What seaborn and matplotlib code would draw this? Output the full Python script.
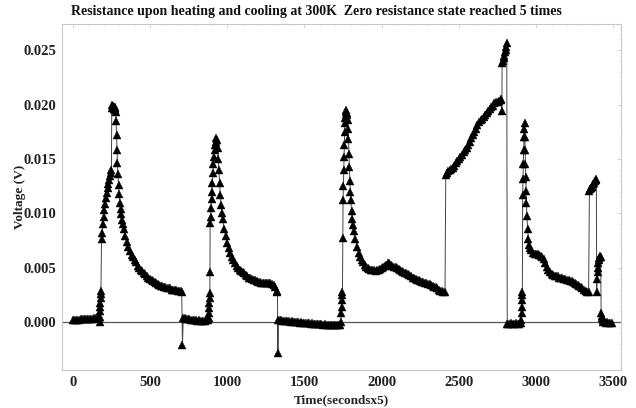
import numpy as np
import pandas as pd
import matplotlib
matplotlib.use("Agg")
import matplotlib.pyplot as plt
import seaborn as sns

# ---- data (time in seconds x5, voltage in V) ----
t_a = [0, 10, 20, 30, 40, 50, 60, 70, 80, 90, 100, 110, 120, 130, 140, 150, 160, 170,
       174, 176, 177, 178, 179, 180, 181, 182, 186, 190, 195, 200, 205, 210, 215, 220,
       225, 230, 235, 240, 245, 250, 252, 255, 258, 261, 264, 267, 270, 273, 276, 278,
       280, 283, 286, 289, 292, 296, 300, 305, 310, 315, 320, 325, 330, 340, 350, 360,
       370, 380, 390, 400, 410, 420, 430, 440, 450, 460, 470, 480, 490, 500, 510, 520,
       530, 540, 550, 560, 570, 580, 590, 600, 610, 620, 630, 640, 650, 660, 670, 680,
       690, 700, 705]
v_a = [0.00020, 0.00022, 0.00022, 0.00024, 0.00023, 0.00025, 0.00026, 0.00026, 0.00028,
       0.00028, 0.00030, 0.00031, 0.00031, 0.00033, 0.00034, 0.00035, 0.00036, 0.00038,
       0.0000, 0.0005, 0.0010, 0.0014, 0.0018, 0.0022, 0.0026, 0.0029, 0.0076, 0.0082,
       0.0090, 0.0097, 0.0103, 0.0109, 0.0114, 0.0119, 0.0123, 0.0127, 0.0131, 0.0134,
       0.0137, 0.0140, 0.0197, 0.0200, 0.0198, 0.0199, 0.0196, 0.0198, 0.0197, 0.0195,
       0.0198, 0.0193, 0.0185, 0.0172, 0.0158, 0.0146, 0.0136, 0.0126, 0.0118, 0.0110,
       0.0104, 0.0099, 0.0094, 0.0090, 0.0086, 0.0079, 0.0074, 0.0069, 0.0065, 0.0062,
       0.0060, 0.0057, 0.0055, 0.0052, 0.0050, 0.0048, 0.0047, 0.0045, 0.0044, 0.0042,
       0.0041, 0.0040, 0.0039, 0.0038, 0.0037, 0.0036, 0.0035, 0.0034, 0.0033, 0.0033,
       0.0032, 0.0032, 0.0031, 0.0031, 0.0031, 0.0030, 0.0030, 0.0030, 0.0030, 0.0029,
       0.0029, 0.0029, 0.0028]

t_b = [710, 715, 725, 735, 745, 755, 765, 775, 785, 795, 805, 815, 825, 835, 845, 855, 865,
       875, 880, 882, 884, 885, 886, 887, 888, 889, 892, 895, 898, 901, 904, 907, 910, 914,
       918, 922, 926, 930, 934, 938, 942, 946, 950, 955, 960, 965, 970, 980, 990, 1000, 1010,
       1020, 1030, 1040, 1050, 1060, 1070, 1080, 1090, 1100, 1110, 1120, 1130, 1140, 1150,
       1160, 1170, 1180, 1190, 1200, 1210, 1220, 1230, 1240, 1250, 1260, 1270, 1280, 1290,
       1300, 1310, 1320, 1325]
v_b = [-0.0021, 0.0004, 0.0004, 0.0003, 0.0003, 0.0003, 0.0002, 0.0002, 0.0002, 0.0002,
       0.0001, 0.0002, 0.0001, 0.0001, 0.0001, 0.0001, 0.0002, 0.0002, 0.0004, 0.0008,
       0.0013, 0.0018, 0.0022, 0.0027, 0.0046, 0.0091, 0.0097, 0.0105, 0.0113, 0.0120,
       0.0128, 0.0137, 0.0145, 0.0152, 0.0158, 0.0163, 0.0166, 0.0169, 0.0167, 0.0160,
       0.0150, 0.0140, 0.0128, 0.0117, 0.0108, 0.0100, 0.0095, 0.0086, 0.0079, 0.0073,
       0.0068, 0.0064, 0.0060, 0.0057, 0.0054, 0.0052, 0.0050, 0.0048, 0.0047, 0.0046,
       0.0045, 0.0043, 0.0042, 0.0041, 0.0041, 0.0040, 0.0039, 0.0039, 0.0038, 0.0037,
       0.0037, 0.0036, 0.0036, 0.0036, 0.0036, 0.0036, 0.0036, 0.0036, 0.0035, 0.0034,
       0.0032, 0.0029, 0.0028]

t_c = [1328, 1331, 1340, 1350, 1360, 1370, 1380, 1390, 1400, 1410, 1420, 1430, 1440, 1450,
       1460, 1470, 1480, 1490, 1500, 1510, 1520, 1530, 1540, 1550, 1560, 1570, 1580, 1590,
       1600, 1610, 1620, 1630, 1640, 1650, 1660, 1670, 1680, 1690, 1700, 1710, 1720, 1730,
       1735, 1738, 1740, 1742, 1744, 1746, 1748, 1750, 1752, 1754, 1756, 1758, 1760, 1762,
       1764, 1766, 1768, 1770, 1773, 1776, 1779, 1782, 1785, 1788, 1791, 1794, 1797, 1800,
       1805, 1810, 1815, 1820, 1830, 1840, 1850, 1860, 1870, 1880, 1890, 1900, 1910, 1920,
       1930, 1940, 1950, 1960, 1970, 1980, 1990, 2000, 2010, 2020, 2030, 2040, 2050, 2060,
       2070, 2080, 2090, 2100, 2110, 2120, 2130, 2140, 2150, 2160, 2170, 2180, 2190, 2200,
       2210, 2220, 2230, 2240, 2250, 2260, 2270, 2280, 2290, 2300, 2310, 2320, 2330, 2340,
       2350, 2360, 2370, 2380, 2390, 2400, 2410]
v_c = [-0.0028, 0.0002, 0.0002, 0.0002, 0.0001, 0.0001, 0.0001, 0.0001, 0.0001, 0.0000,
       0.0001, 0.0000, 0.0000, 0.0000, 0.0000, -0.0001, 0.0000, -0.0001, -0.0001, -0.0001,
       -0.0001, -0.0001, -0.0002, -0.0001, -0.0002, -0.0002, -0.0002, -0.0002, -0.0002,
       -0.0002, -0.0003, -0.0002, -0.0003, -0.0003, -0.0003, -0.0003, -0.0003, -0.0003,
       -0.0003, -0.0003, -0.0003, -0.0003, 0.0000, 0.0008, 0.0014, 0.0020, 0.0025, 0.0028,
       0.0077, 0.0112, 0.0125, 0.0140, 0.0152, 0.0163, 0.0175, 0.0183, 0.0188, 0.0190,
       0.0193, 0.0195, 0.0192, 0.0190, 0.0186, 0.0178, 0.0168, 0.0155, 0.0143, 0.0130,
       0.0120, 0.0112, 0.0102, 0.0095, 0.0089, 0.0084, 0.0076, 0.0069, 0.0064, 0.0060,
       0.0057, 0.0055, 0.0053, 0.0051, 0.0050, 0.0049, 0.0048, 0.0048, 0.0048, 0.0047,
       0.0048, 0.0048, 0.0049, 0.0050, 0.0051, 0.0052, 0.0053, 0.0054, 0.0054, 0.0053,
       0.0052, 0.0051, 0.0051, 0.0050, 0.0049, 0.0048, 0.0047, 0.0046, 0.0045, 0.0045,
       0.0044, 0.0043, 0.0042, 0.0041, 0.0041, 0.0040, 0.0039, 0.0039, 0.0038, 0.0037,
       0.0037, 0.0036, 0.0036, 0.0035, 0.0035, 0.0034, 0.0033, 0.0032, 0.0032, 0.0031,
       0.0030, 0.0029, 0.0029, 0.0028, 0.0028]

t_d = [2415, 2420, 2430, 2440, 2450, 2460, 2470, 2480, 2490, 2500, 2510, 2520, 2530, 2540,
       2550, 2560, 2570, 2580, 2590, 2600, 2610, 2620, 2630, 2640, 2650, 2660, 2670, 2680,
       2690, 2700, 2710, 2720, 2730, 2740, 2750, 2760, 2770, 2775, 2778, 2780, 2785, 2790,
       2795, 2800, 2805, 2808, 2810]
v_d = [0.0135, 0.0137, 0.0139, 0.0140, 0.0141, 0.0142, 0.0144, 0.0146, 0.0148, 0.0150,
       0.0152, 0.0154, 0.0156, 0.0158, 0.0160, 0.0163, 0.0166, 0.0169, 0.0172, 0.0175,
       0.0178, 0.0181, 0.0184, 0.0186, 0.0187, 0.0189, 0.0190, 0.0192, 0.0194, 0.0196,
       0.0198, 0.0199, 0.0201, 0.0202, 0.0202, 0.0203, 0.0204, 0.0205, 0.0194, 0.0238,
       0.0240, 0.0243, 0.0245, 0.0248, 0.0250, 0.0253, 0.0257]

t_e = [2813, 2820, 2830, 2840, 2850, 2860, 2870, 2880, 2890, 2900, 2905, 2907, 2908, 2909,
       2910, 2911, 2913, 2915, 2917, 2919, 2921, 2923, 2925, 2927, 2929, 2931, 2933, 2935,
       2937, 2940, 2945, 2950, 2955, 2960, 2970, 2980, 2990, 3000, 3010, 3020, 3030, 3040,
       3050, 3060, 3070, 3080, 3090, 3100, 3110, 3120, 3130, 3140, 3150, 3160, 3170, 3180,
       3190, 3200, 3210, 3220, 3230, 3240, 3250, 3260, 3270, 3280, 3290, 3300, 3310, 3320,
       3330, 3340]
v_e = [-0.0002, -0.0002, -0.0002, -0.0001, -0.0002, -0.0002, -0.0001, -0.0002, -0.0002,
       -0.0001, 0.0002, 0.0008, 0.0014, 0.0020, 0.0025, 0.0028, 0.0117, 0.0132, 0.0145,
       0.0158, 0.0170, 0.0178, 0.0183, 0.0170, 0.0158, 0.0145, 0.0133, 0.0121, 0.0110,
       0.0098, 0.0086, 0.0076, 0.0071, 0.0068, 0.0066, 0.0064, 0.0063, 0.0063, 0.0063,
       0.0062, 0.0061, 0.0060, 0.0058, 0.0054, 0.0051, 0.0048, 0.0046, 0.0044, 0.0043,
       0.0042, 0.0042, 0.0042, 0.0041, 0.0041, 0.0041, 0.0040, 0.0040, 0.0039, 0.0039,
       0.0038, 0.0038, 0.0037, 0.0036, 0.0035, 0.0034, 0.0033, 0.0032, 0.0031, 0.0030,
       0.0029, 0.0028, 0.0028]

t_f = [3345, 3350, 3355, 3360, 3365, 3370, 3375, 3380, 3385, 3390, 3392, 3395, 3398, 3400,
       3403, 3406, 3409, 3412, 3415, 3418, 3421, 3425, 3428, 3432, 3436, 3440, 3450, 3460,
       3470, 3480, 3490]
v_f = [0.0121, 0.0122, 0.0123, 0.0124, 0.0125, 0.0127, 0.0128, 0.0130, 0.0131, 0.0132,
       0.0028, 0.0040, 0.0046, 0.0050, 0.0054, 0.0057, 0.0059, 0.0060, 0.0061, 0.0060,
       0.0008, 0.0006, 0.0004, 0.0002, 0.0000, 0.0001, -0.0001, 0.0000, -0.0001, -0.0001,
       -0.0001]

x_ticks = [0, 500, 1000, 1500, 2000, 2500, 3000, 3500]
y_ticks = [0.000, 0.005, 0.010, 0.015, 0.020, 0.025]
y_tick_labels = ["0.000", "0.005", "0.010", "0.015", "0.020", "0.025"]

title = "Resistance upon heating and cooling at 300K  Zero resistance state reached 5 times"
xlabel = "Time(secondsx5)"
ylabel = "Voltage (V)"

df = pd.DataFrame({
    "t": t_a + t_b + t_c + t_d + t_e + t_f,
    "v": v_a + v_b + v_c + v_d + v_e + v_f,
})

sns.set_theme(style="white")
plt.rcParams["font.family"] = ["Liberation Serif", "DejaVu Serif"]

fig = plt.figure(figsize=(6.36, 4.08), dpi=100)
ax = fig.add_axes([0.0975, 0.093, 0.879, 0.848])

ax.axhline(0, color="#555555", linewidth=0.9, zorder=1)
sns.lineplot(data=df, x="t", y="v", ax=ax, sort=False, estimator=None,
             color="#444444", linewidth=0.7, marker="^", markersize=5.3,
             markerfacecolor="black", markeredgecolor="black", markeredgewidth=0.3,
             zorder=3)

ax.set_xlim(-70, 3550)
ax.set_ylim(-0.0044, 0.0274)
ax.set_xticks(x_ticks)
ax.set_xticklabels([str(x) for x in x_ticks], fontsize=10.5, fontweight="bold")
ax.set_yticks(y_ticks)
ax.set_yticklabels(y_tick_labels, fontsize=10.5, fontweight="bold")
ax.set_xticks(np.arange(0, 3550, 100), minor=True)
ax.set_yticks(np.arange(-0.004, 0.0271, 0.001), minor=True)
ax.tick_params(axis="both", which="major", direction="in", length=3, width=0.6,
               color="#cccccc", pad=4, labelcolor="#222222")
ax.tick_params(axis="both", which="minor", direction="in", length=1.5, width=0.5,
               color="#dddddd")
ax.tick_params(top=True, right=True, which="both")
for s in ax.spines.values():
    s.set_color("#c8c8c8")
    s.set_linewidth(0.8)

fig.text(316 / 636, 1 - 12 / 408, title, ha="center", va="center",
         fontsize=10, fontweight="bold", color="#111111")
ax.set_xlabel(xlabel, fontsize=9.5, fontweight="bold", labelpad=4, color="#222222")
ax.set_ylabel(ylabel, fontsize=9.5, fontweight="bold", labelpad=-2, color="#222222")

fig.savefig("out.png", dpi=100)
